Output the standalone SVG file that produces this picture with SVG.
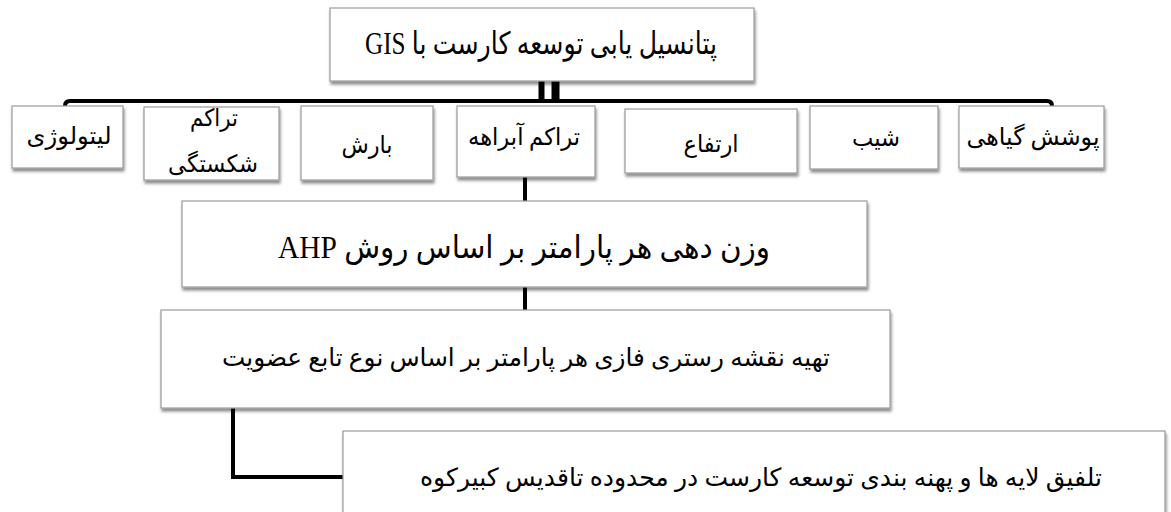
<svg xmlns="http://www.w3.org/2000/svg" width="1171" height="512" viewBox="0 0 1171 512">
  <style>
    .box { fill: #ffffff; stroke: #9a9a9a; stroke-width: 1.2; filter: url(#sh); }
    .t { font-family: "Liberation Serif", "DejaVu Sans", serif; fill: #000; text-anchor: middle; direction: rtl; unicode-bidi: embed; }
    .s { font-size: 24px; }
    .m { font-size: 25px; }
    .l { font-size: 31px; }
    .conn { stroke: #000; stroke-width: 4; fill: none; }
  </style>
  <defs>
    <filter id="sh" x="-5%" y="-10%" width="115%" height="130%">
      <feDropShadow dx="1" dy="3" stdDeviation="1.5" flood-color="#000" flood-opacity="0.45"/>
    </filter>
  </defs>
  <rect width="1171" height="512" fill="#ffffff"/>

  <g id="connectors">
    <path class="conn" d="M65,106 Q65,101 70,101 H1047 Q1052,101 1052,106"/>
    <line x1="541.5" y1="81" x2="541.5" y2="100" stroke="#000" stroke-width="6"/>
    <line x1="555.5" y1="81" x2="555.5" y2="100" stroke="#000" stroke-width="8"/>
    <line class="conn" x1="525" y1="177" x2="525" y2="201"/>
    <line class="conn" x1="525" y1="287" x2="525" y2="310"/>
    <path class="conn" d="M233,408 V477 H343"/>
  </g>

  <g id="n-root">
    <rect class="box" x="330" y="8" width="424" height="73"/>
    <text class="t l" x="541" y="54" textLength="352" lengthAdjust="spacingAndGlyphs">پتانسیل یابی توسعه کارست با GIS</text>
  </g>

  <g id="n-lithology">
    <rect class="box" x="12" y="106" width="111" height="62"/>
    <text class="t s" x="69" y="144" textLength="85" lengthAdjust="spacingAndGlyphs">لیتولوژی</text>
  </g>
  <g id="n-fracture">
    <rect class="box" x="144" y="107" width="135" height="73"/>
    <text class="t s" x="214" y="126" textLength="48" lengthAdjust="spacingAndGlyphs">تراکم</text>
    <text class="t s" x="213" y="172" textLength="90" lengthAdjust="spacingAndGlyphs">شکستگی</text>
  </g>
  <g id="n-rain">
    <rect class="box" x="301" y="106" width="132" height="74"/>
    <text class="t s" x="367" y="153" textLength="51" lengthAdjust="spacingAndGlyphs">بارش</text>
  </g>
  <g id="n-drainage">
    <rect class="box" x="457" y="106" width="138" height="71"/>
    <text class="t s" x="524" y="145" textLength="112" lengthAdjust="spacingAndGlyphs">تراکم آبراهه</text>
  </g>
  <g id="n-elevation">
    <rect class="box" x="625" y="109" width="172" height="64"/>
    <text class="t s" x="711" y="152" textLength="55" lengthAdjust="spacingAndGlyphs">ارتفاع</text>
  </g>
  <g id="n-slope">
    <rect class="box" x="810" y="106" width="128" height="63"/>
    <text class="t s" x="876" y="146" textLength="48" lengthAdjust="spacingAndGlyphs">شیب</text>
  </g>
  <g id="n-vegetation">
    <rect class="box" x="959" y="106" width="145" height="62"/>
    <text class="t s" x="1033" y="145" textLength="133" lengthAdjust="spacingAndGlyphs">پوشش گیاهی</text>
  </g>

  <g id="n-ahp">
    <rect class="box" x="182" y="201" width="685" height="86"/>
    <text class="t l" x="524" y="258" textLength="492" lengthAdjust="spacingAndGlyphs">وزن دهی هر پارامتر بر اساس روش  AHP</text>
  </g>
  <g id="n-fuzzy">
    <rect class="box" x="161" y="310" width="729" height="98"/>
    <text class="t m" x="526" y="366" textLength="608" lengthAdjust="spacingAndGlyphs">تهیه نقشه رستری فازی هر پارامتر بر اساس  نوع  تابع عضویت</text>
  </g>
  <g id="n-final">
    <rect class="box" x="343" y="431" width="822" height="110"/>
    <text class="t m" x="761" y="486" textLength="682" lengthAdjust="spacingAndGlyphs">تلفیق لایه ها و پهنه بندی توسعه  کارست در محدوده تاقدیس کبیرکوه</text>
  </g>
</svg>
